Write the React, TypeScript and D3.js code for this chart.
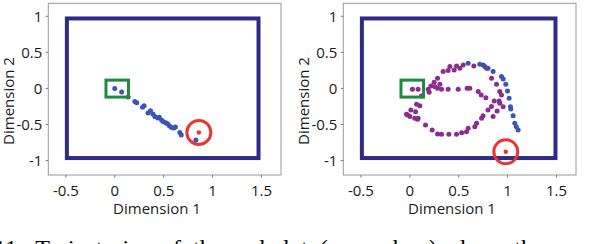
import React from "react";
import * as d3 from "d3";

// two trajectory panels
const xTicks = [-0.5, 0, 0.5, 1, 1.5];
const yTicks = [-1, -0.5, 0, 0.5, 1];

const leftBlue: [number, number][] = [
    [0.0, 0.0], [0.07, -0.05], [0.137, -0.12], [0.205, -0.18], [0.225, -0.2],
    [0.284, -0.26], [0.3, -0.24], [0.34, -0.34], [0.365, -0.31], [0.39, -0.355],
    [0.41, -0.39], [0.44, -0.41], [0.455, -0.4], [0.48, -0.44], [0.495, -0.46],
    [0.52, -0.475], [0.54, -0.49], [0.56, -0.52], [0.58, -0.54], [0.605, -0.55],
    [0.62, -0.535], [0.665, -0.61], [0.68, -0.645], [0.83, -0.715]
];

const rightBlue: [number, number][] = [
    [0.597, 0.35], [0.716, 0.336], [0.75, 0.326], [0.8, 0.28], [0.852, 0.233],
    [0.938, 0.164], [0.955, 0.132], [0.982, 0.058], [1.0, -0.035], [1.016, -0.136],
    [1.03, -0.253], [1.033, -0.285], [1.057, -0.38], [1.074, -0.483], [1.09, -0.53],
    [1.108, -0.576]
];

const rightPurple: [number, number][] = [
    [0.027, -0.01], [0.085, -0.01],
    [0.188, -0.011], [0.284, 0.003], [0.325, -0.011], [0.392, -0.011], [0.495, -0.011],
    [0.587, 0.003], [0.614, 0.003], [0.7, -0.044], [0.73, -0.09], [0.778, -0.128],
    [0.198, -0.053], [0.216, 0.035], [0.257, 0.025], [0.249, 0.086], [0.308, 0.058], [0.284, 0.142],
    [0.341, 0.233], [0.392, 0.247], [0.41, 0.303], [0.454, 0.257], [0.478, 0.3125],
    [0.512, 0.28], [0.546, 0.326], [0.655, 0.3125], [0.767, 0.303], [0.785, 0.28],
    [0.836, 0.142], [0.887, 0.058], [0.92, -0.044], [0.938, -0.09], [0.914, -0.174],
    [0.863, -0.174], [0.92, -0.206], [0.955, -0.253], [0.893, -0.3125], [0.852, -0.39],
    [0.835, -0.25], [0.8, -0.3],
    [0.75, -0.38], [0.734, -0.414], [0.683, -0.483], [0.665, -0.53], [0.597, -0.553],
    [0.58, -0.6], [0.53, -0.614], [0.478, -0.636], [0.4, -0.636], [0.325, -0.636],
    [0.284, -0.632], [0.229, -0.576], [0.161, -0.507], [0.08, -0.428], [0.001, -0.39],
    [-0.022, -0.368], [0.059, -0.322], [0.011, -0.3], [0.103, -0.239], [0.069, -0.219],
    [0.12, -0.104], [-0.034, -0.359], [0.051, -0.414], [0.085, -0.414]
];

// start box, target circle and boundary per panel
const startBox = { x0: -0.09, x1: 0.14, y0: -0.12, y1: 0.115 };
const targets: [number, number][] = [[0.86, -0.61], [0.982, -0.878]];
const bounds = [
    { x0: -0.49, x1: 1.47, y0: -0.965, y1: 0.97 },
    { x0: -0.49, x1: 1.49, y0: -0.965, y1: 0.97 }
];

const BLUE = "#3b55b4";
const PURPLE = "#8b2c8f";
const NAVY = "#2f2a87";
const GREEN = "#1e8b41";
const RED = "#eb3431";
const FONT = "'Open Sans', sans-serif";
const INK = "#1a1a1a";

const Panel = ({ dx, idx, blue, purple }: { dx: number; idx: number; blue: [number, number][]; purple: [number, number][] }) => {
    const x = d3.scaleLinear().domain([-0.68, 1.7]).range([48.3 + dx, 281 + dx]);
    const y = d3.scaleLinear().domain([-1.2, 1.18]).range([175, 3.3]);
    const b = bounds[idx];
    const [tx, ty] = targets[idx];

    return (
        <g>
            <rect x={x(-0.68)} y={y(1.18)} width={x(1.7) - x(-0.68)} height={y(-1.2) - y(1.18)}
                fill="#fff" stroke="#9a9a9a" strokeWidth={1} />
            {xTicks.map(t => (
                <g key={"x" + t}>
                    <line x1={x(t)} x2={x(t)} y1={y(-1.2)} y2={y(-1.2) + 2.5} stroke="#777" />
                    <text x={x(t)} y={196} textAnchor="middle" fontSize={15} fontFamily={FONT} fill={INK}>{t}</text>
                </g>
            ))}
            {yTicks.map(t => (
                <g key={"y" + t}>
                    <line x1={x(-0.68) - 2.5} x2={x(-0.68)} y1={y(t)} y2={y(t)} stroke="#777" />
                    <text x={x(-0.68) - 6} y={y(t) + 5.5} textAnchor="end" fontSize={15} fontFamily={FONT} fill={INK}>{t}</text>
                </g>
            ))}
            <text x={157 + dx} y={213.5} textAnchor="middle" fontSize={15} fontFamily={FONT} fill={INK}>Dimension 1</text>
            <text transform={`translate(${14 + dx},${101}) rotate(-90)`} textAnchor="middle" fontSize={15}
                fontFamily={FONT} fill={INK}>Dimension 2</text>

            <rect x={x(b.x0)} y={y(b.y1)} width={x(b.x1) - x(b.x0)} height={y(b.y0) - y(b.y1)}
                fill="none" stroke={NAVY} strokeWidth={4} />

            {purple.map((p, i) => (
                <circle key={"p" + i} cx={x(p[0])} cy={y(p[1])} r={2.5} fill={PURPLE} />
            ))}
            {blue.map((p, i) => (
                <circle key={"b" + i} cx={x(p[0])} cy={y(p[1])} r={2.5} fill={BLUE} />
            ))}

            <rect x={x(startBox.x0)} y={y(startBox.y1)} width={x(startBox.x1) - x(startBox.x0)}
                height={y(startBox.y0) - y(startBox.y1)} fill="none" stroke={GREEN} strokeWidth={3} />
            <circle cx={x(tx)} cy={y(ty)} r={12} fill="none" stroke={RED} strokeWidth={3} />
            <circle cx={x(tx)} cy={y(ty)} r={2.2} fill={RED} />
        </g>
    );
};

export default function App() {
    return (
        <svg width={608} height={244} style={{ position: "absolute", left: 0, top: 0, background: "#fff" }}>
            <rect width={608} height={244} fill="#fff" />
            <Panel dx={0} idx={0} blue={leftBlue} purple={[]} />
            <Panel dx={295} idx={1} blue={rightBlue} purple={rightPurple} />
            <text x={-6} y={256} fontSize={24} fontFamily="'Liberation Serif', serif" fill="#000"
                wordSpacing={6}>11:  Trajectories of the red dot (green box) along the</text>
        </svg>
    );
}
